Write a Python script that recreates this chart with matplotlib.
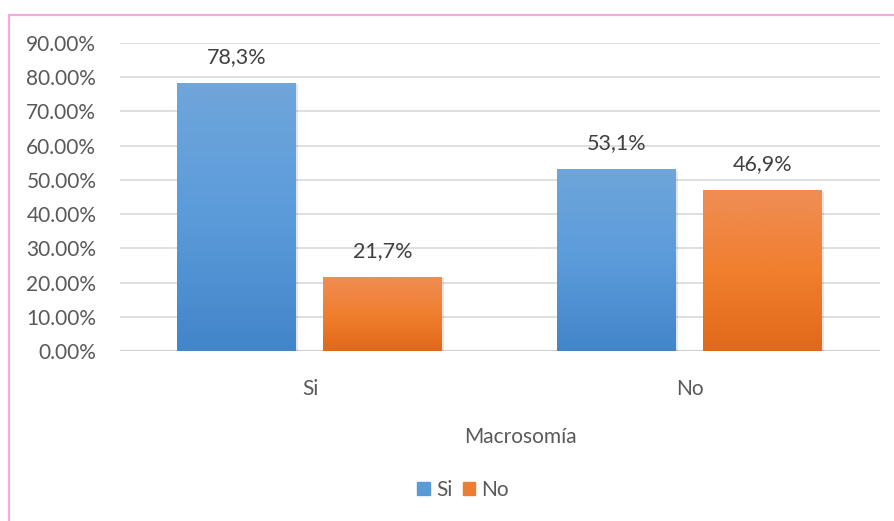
import numpy as np
import matplotlib.pyplot as plt
from matplotlib.patches import Rectangle
from matplotlib.colors import LinearSegmentedColormap

# Macrosomía data: share of Si / No within each group
categories = ["Si", "No"]
serie_si = [0.783, 0.531]
serie_no = [0.217, 0.469]
etiquetas_si = ["78,3%", "53,1%"]
etiquetas_no = ["21,7%", "46,9%"]
yticks = [0.0, 0.1, 0.2, 0.3, 0.4, 0.5, 0.6, 0.7, 0.8, 0.9]

plt.rcParams['font.family'] = ['Lato', 'DejaVu Sans']

fig = plt.figure(figsize=(8.95, 5.21), dpi=100)
ax = fig.add_axes([0.134, 0.3263, 0.849, 0.5912])

# pink frame around the chart (cut off at right and bottom)
fig.patches.append(Rectangle((8.5 / 895, -0.1), 1.2, 1 - 14.5 / 521 + 0.1,
                             transform=fig.transFigure, fill=False,
                             edgecolor='#F4AADF', linewidth=1.6, zorder=0))

x = np.arange(len(categories))
width = 0.313
offset = 0.192

blue = LinearSegmentedColormap.from_list('b', ['#4285C9', '#5B9BDA', '#6FA6DB'])
orange = LinearSegmentedColormap.from_list('o', ['#E2681A', '#F07F2E', '#F08D55'])
grad = np.linspace(0, 1, 256).reshape(-1, 1)


def gradient_bars(xs, vals, cmap):
    bars = ax.bar(xs, vals, width, color='none', zorder=3)
    for b in bars:
        x0, y0 = b.get_x(), b.get_y()
        w, h = b.get_width(), b.get_height()
        # soft shadow behind the bar
        ax.add_patch(Rectangle((x0 + 0.005, y0 - 0.004), w, h, color='#000000',
                               alpha=0.10, zorder=2, linewidth=0))
        im = ax.imshow(grad, cmap=cmap, aspect='auto', origin='lower',
                       extent=[x0, x0 + w, y0, y0 + h], zorder=3)
        im.set_clip_path(b)
    return bars


gradient_bars(x - offset, serie_si, blue)
gradient_bars(x + offset, serie_no, orange)

for xi, v, t in zip(x - offset, serie_si, etiquetas_si):
    ax.text(xi, v + 0.047, t, ha='center', va='bottom', fontsize=15.5, color='#404040')
for xi, v, t in zip(x + offset, serie_no, etiquetas_no):
    ax.text(xi, v + 0.047, t, ha='center', va='bottom', fontsize=15.5, color='#404040')

ax.set_xlim(-0.5, 1.5)
ax.set_ylim(0, 0.9)
ax.set_yticks(yticks)
ax.set_yticklabels([f"{v * 100:.2f}%" for v in yticks])
ax.set_xticks(x)
ax.set_xticklabels(categories)
ax.tick_params(axis='both', length=0, labelsize=15, labelcolor='#595959')
ax.tick_params(axis='y', pad=17)
ax.tick_params(axis='x', pad=20)
ax.grid(axis='y', color='#D9D9D9', linewidth=1.2, zorder=0)
ax.set_axisbelow(True)
for s in ax.spines.values():
    s.set_visible(False)
ax.axhline(0, color='#D0D0D0', linewidth=1.5, zorder=1)

fig.text(520 / 895, 1 - 437 / 521, "Macrosomía", ha='center', va='center',
         fontsize=15, color='#595959')

handles = [Rectangle((0, 0), 1, 1, color='#5B9BD5'), Rectangle((0, 0), 1, 1, color='#ED7D31')]
fig.legend(handles, categories, loc='center', bbox_to_anchor=(463 / 895, 1 - 490 / 521),
           ncol=2, frameon=False, fontsize=15, handlelength=0.6, handleheight=0.6,
           handletextpad=0.3, columnspacing=0.5, labelcolor='#595959')

fig.savefig('out.png', dpi=100)
